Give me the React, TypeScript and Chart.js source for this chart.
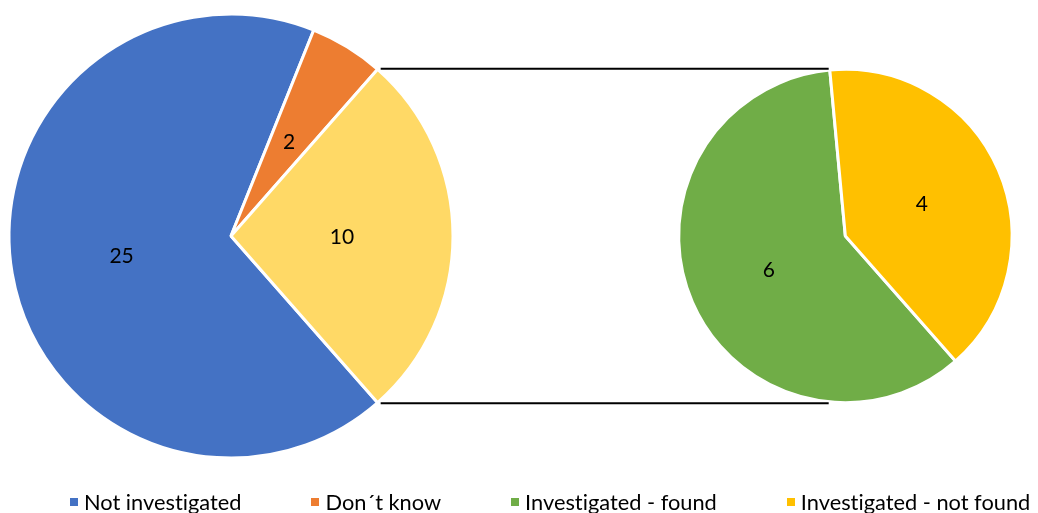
import React, { useEffect, useRef } from "react";
import { Chart, registerables } from "chart.js";

Chart.register(...registerables);

// ---- data ----
const primaryLabels = ["Not investigated", "Don´t know", "Investigated"];
const primaryValues = [25, 2, 10];
const primaryColors = ["#4472C4", "#ED7D31", "#FFD966"];

const secondaryLabels = ["Investigated - found", "Investigated - not found"];
const secondaryValues = [6, 4];
const secondaryColors = ["#70AD47", "#FFC000"];

const legendLabels = ["Not investigated", "Don´t know", "Investigated - found", "Investigated - not found"];
const legendColors = ["#4472C4", "#ED7D31", "#70AD47", "#FFC000"];

const FONT = "Lato, 'Open Sans', sans-serif";

// rotation so that the "other" slice (last in primary) is centred on the right side
const primaryTotal = primaryValues.reduce((a, b) => a + b, 0);
const otherSpan = (primaryValues[primaryValues.length - 1] / primaryTotal) * 360;
const ROTATION = 90 + otherSpan / 2;

const pieOfPiePlugin = {
  id: "pieOfPie",
  afterDatasetsUpdate(chart: any) {
    const a = chart.chartArea;
    const R0 = (a.bottom - a.top) / 2;
    const cx0 = a.left + R0;
    const cy = (a.top + a.bottom) / 2;
    const meta0 = chart.getDatasetMeta(0);
    const other = meta0.data[meta0.data.length - 1];
    const half = (other.endAngle - other.startAngle) / 2;
    const R1 = R0 * Math.sin(half);
    const cx1 = a.right - R1;
    meta0.data.forEach((el: any) => {
      el.x = cx0;
      el.y = cy;
      el.innerRadius = 0;
      el.outerRadius = R0;
    });
    chart.getDatasetMeta(1).data.forEach((el: any) => {
      el.x = cx1;
      el.y = cy;
      el.innerRadius = 0;
      el.outerRadius = R1;
    });
  },
  afterDatasetsDraw(chart: any) {
    const ctx = chart.ctx;
    const meta0 = chart.getDatasetMeta(0);
    const meta1 = chart.getDatasetMeta(1);
    const other = meta0.data[meta0.data.length - 1];
    const r1el = meta1.data[0];
    const R1 = r1el.outerRadius;
    const xEnd = r1el.x - R1 * 0.1;
    ctx.save();
    ctx.strokeStyle = "#000";
    ctx.lineWidth = 2;
    [other.startAngle, other.endAngle].forEach((ang: number) => {
      const px = other.x + other.outerRadius * Math.cos(ang);
      const py = other.y + other.outerRadius * Math.sin(ang);
      const dir = Math.sin(ang) < 0 ? -1 : 1;
      ctx.beginPath();
      ctx.moveTo(px + 3, py + dir * 0.5);
      ctx.lineTo(xEnd, py + dir * 0.5);
      ctx.stroke();
    });
    // value labels
    ctx.fillStyle = "#000";
    ctx.font = `21px ${FONT}`;
    ctx.textAlign = "center";
    ctx.textBaseline = "middle";
    [meta0, meta1].forEach((meta: any, di: number) => {
      const vals = chart.data.datasets[di].data;
      meta.data.forEach((el: any, i: number) => {
        const p = el.tooltipPosition(true);
        ctx.fillText(String(vals[i]), p.x, p.y + 1);
      });
    });
    ctx.restore();
  },
};

export default function App() {
  const canvasRef = useRef<HTMLCanvasElement | null>(null);

  useEffect(() => {
    if (!canvasRef.current) return;
    const chart = new Chart(canvasRef.current, {
      type: "pie",
      data: {
        labels: [...primaryLabels, ...secondaryLabels],
        datasets: [
          {
            label: "Primary",
            data: primaryValues,
            backgroundColor: primaryColors,
            borderColor: "#FFFFFF",
            borderWidth: 3,
            rotation: ROTATION,
          } as any,
          {
            label: "Secondary",
            data: secondaryValues,
            backgroundColor: secondaryColors,
            borderColor: "#FFFFFF",
            borderWidth: 3,
            rotation: ROTATION,
          } as any,
        ],
      },
      options: {
        responsive: false,
        animation: false,
        events: [],
        layout: { padding: { left: 9, right: 26, top: 14, bottom: 55 } },
        plugins: {
          legend: { display: false },
          tooltip: { enabled: false },
        },
      },
      plugins: [pieOfPiePlugin],
    });
    return () => chart.destroy();
  }, []);

  return (
    <div style={{ position: "absolute", left: 0, top: 0, width: 1038, height: 513, background: "#fff" }}>
      <canvas ref={canvasRef} width={1038} height={513} style={{ position: "absolute", left: 0, top: 0 }} />
      <div
        style={{
          position: "absolute",
          left: 70,
          top: 491,
          display: "flex",
          alignItems: "center",
          fontFamily: FONT,
          fontSize: 21.8,
          lineHeight: "22px",
          color: "#000",
          whiteSpace: "nowrap",
          fontVariantLigatures: "none",
        }}
      >
        {legendLabels.map((lab, i) => (
          <div key={lab} style={{ display: "flex", alignItems: "center", marginRight: 70 }}>
            <span style={{ display: "inline-block", width: 8, height: 8, background: legendColors[i], marginRight: 6 }} />
            <span>{lab}</span>
          </div>
        ))}
      </div>
    </div>
  );
}
